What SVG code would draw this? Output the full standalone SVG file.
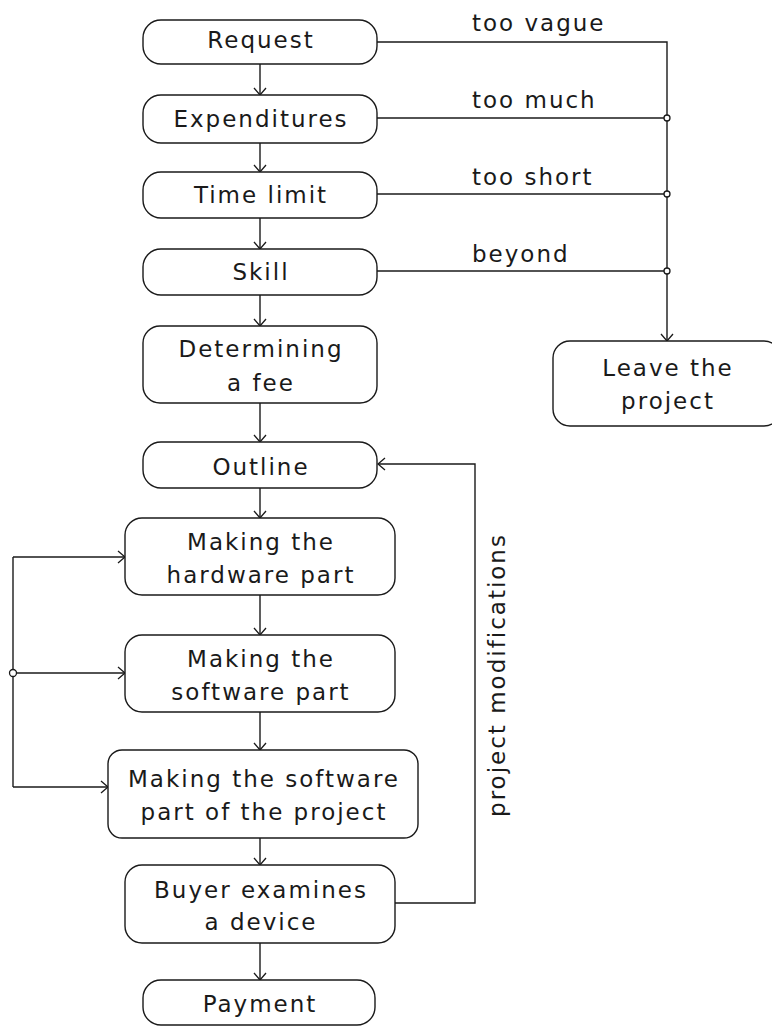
<svg xmlns="http://www.w3.org/2000/svg" width="772" height="1026" viewBox="0 0 772 1026">
<style>
.box{fill:#fff;stroke:#1a1a1a;stroke-width:1.4}
.t{font-family:"DejaVu Sans",Verdana,sans-serif;font-size:23px;fill:#1a1a1a;letter-spacing:2px;text-anchor:middle}
.lbl{font-family:"DejaVu Sans",Verdana,sans-serif;font-size:23px;fill:#1a1a1a;letter-spacing:2px}
.c{fill:none;stroke:#1a1a1a;stroke-width:1.4}
.a{fill:none;stroke:#1a1a1a;stroke-width:1.4;marker-end:url(#arr)}
.j{fill:#fff;stroke:#1a1a1a;stroke-width:1.3}
</style>
<defs>
<marker id="arr" markerUnits="userSpaceOnUse" markerWidth="16" markerHeight="16" refX="8" refY="8" orient="auto" overflow="visible">
<path d="M1 2 L8 8 L1 14" fill="none" stroke="#1a1a1a" stroke-width="1.3"/>
</marker>
</defs>
<rect width="772" height="1026" fill="#fff"/>
<g id="connectors">
<path class="a" d="M260 64 V95"/>
<path class="a" d="M260 143 V172"/>
<path class="a" d="M260 218 V249"/>
<path class="a" d="M260 295 V326"/>
<path class="a" d="M260 403 V442"/>
<path class="a" d="M260 488 V518"/>
<path class="a" d="M260 595 V635"/>
<path class="a" d="M260 712 V750"/>
<path class="a" d="M260 838 V865"/>
<path class="a" d="M260 943 V980"/>
<path class="a" d="M377 42 H667 V341"/>
<path class="c" d="M377 118 H667"/>
<path class="c" d="M377 194 H667"/>
<path class="c" d="M377 271 H667"/>
<path class="a" d="M395 903 H475 V464 H378"/>
<path class="c" d="M13 557 V787"/>
<path class="a" d="M13 557 H125"/>
<path class="a" d="M13 673 H125"/>
<path class="a" d="M13 787 H108"/>
<circle class="j" cx="667" cy="118" r="3"/>
<circle class="j" cx="667" cy="194" r="3"/>
<circle class="j" cx="667" cy="271" r="3"/>
<circle class="j" cx="13" cy="673" r="3.5"/>
<text class="lbl" x="472" y="31">too vague</text>
<text class="lbl" x="472" y="108">too much</text>
<text class="lbl" x="472" y="185">too short</text>
<text class="lbl" x="472" y="262">beyond</text>
<text class="t" transform="translate(505,675) rotate(-90)">project modifications</text>
</g>
<g id="request"><rect class="box" x="143" y="20" width="234" height="44" rx="18"/><text class="t" x="261" y="48">Request</text></g>
<g id="expenditures"><rect class="box" x="143" y="95" width="234" height="48" rx="18"/><text class="t" x="261" y="127">Expenditures</text></g>
<g id="time-limit"><rect class="box" x="143" y="172" width="234" height="46" rx="18"/><text class="t" x="261" y="203">Time limit</text></g>
<g id="skill"><rect class="box" x="143" y="249" width="234" height="46" rx="18"/><text class="t" x="261" y="280">Skill</text></g>
<g id="determining-fee"><rect class="box" x="143" y="326" width="234" height="77" rx="17"/><text class="t" x="261" y="357">Determining</text><text class="t" x="261" y="391">a fee</text></g>
<g id="outline"><rect class="box" x="143" y="442" width="234" height="46" rx="18"/><text class="t" x="261" y="475">Outline</text></g>
<g id="hardware"><rect class="box" x="125" y="518" width="270" height="77" rx="17"/><text class="t" x="261" y="550">Making the</text><text class="t" x="261" y="583">hardware part</text></g>
<g id="software"><rect class="box" x="125" y="635" width="270" height="77" rx="17"/><text class="t" x="261" y="667">Making the</text><text class="t" x="261" y="700">software part</text></g>
<g id="software-project"><rect class="box" x="108" y="750" width="310" height="88" rx="14"/><text class="t" x="264" y="787">Making the software</text><text class="t" x="264" y="820">part of the project</text></g>
<g id="buyer"><rect class="box" x="125" y="865" width="270" height="78" rx="17"/><text class="t" x="261" y="898">Buyer examines</text><text class="t" x="261" y="930">a device</text></g>
<g id="payment"><rect class="box" x="143" y="980" width="232" height="45" rx="18"/><text class="t" x="260" y="1012">Payment</text></g>
<g id="leave"><rect class="box" x="553" y="341" width="228" height="85" rx="17"/><text class="t" x="668" y="376">Leave the</text><text class="t" x="668" y="409">project</text></g>
</svg>
